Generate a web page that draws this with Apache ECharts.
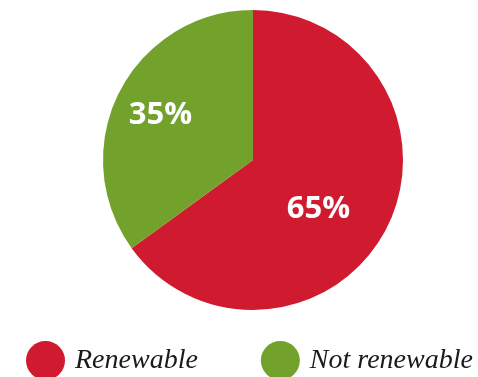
<!DOCTYPE html>
<html><head><meta charset="utf-8">
<script src="https://cdn.jsdelivr.net/npm/echarts@6/dist/echarts.min.js"></script>
<style>html,body{margin:0;padding:0;background:#fff}#c{width:478px;height:377px}</style>
</head><body><div id="c"></div>
<script>
const categories = ["Renewable", "Not renewable"];
const values = [65, 35];
const colors = ["#CF1A2F", "#72A22B"];
const labelOffsets = [[-4, 14], [-23, -9]];

const chart = echarts.init(document.getElementById('c'), null, {renderer: 'canvas'});
chart.setOption({
  animation: false,
  legend: {
    left: 26, top: 341, width: 470,
    padding: 0,
    icon: 'circle',
    itemWidth: 39, itemHeight: 39,
    itemGap: 63,
    data: categories,
    textStyle: {fontFamily: 'Liberation Serif', fontStyle: 'italic', fontSize: 28, color: '#1a1a1a', padding: [10, 0, 0, 5]}
  },
  series: [{
    type: 'pie',
    center: [253, 160],
    radius: 150,
    startAngle: 90,
    clockwise: true,
    label: {
      position: 'inside',
      formatter: '{c}%',
      color: '#fff',
      fontFamily: 'Open Sans',
      fontWeight: 'bold',
      fontSize: 31
    },
    labelLine: {show: false},
    emphasis: {disabled: true},
    data: categories.map((n, i) => ({
      name: n, value: values[i],
      itemStyle: {color: colors[i]},
      label: {offset: labelOffsets[i]}
    }))
  }]
});
</script></body></html>
